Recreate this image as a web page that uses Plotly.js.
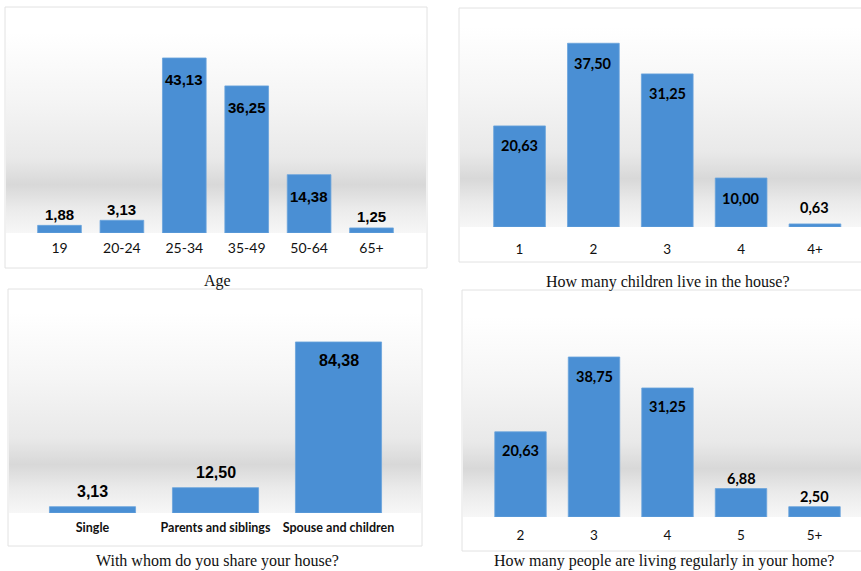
<!DOCTYPE html>
<html>
<head>
<meta charset="utf-8">
<script src="https://cdn.plot.ly/plotly-3.0.1.min.js"></script>
<style>html,body{margin:0;padding:0;background:#fff}#chart{width:861px;height:571px}</style>
</head>
<body>
<div id="chart"></div>
<script>
// ---- data ----
const ageCats = ['19', '20-24', '25-34', '35-49', '50-64', '65+'];
const ageVals = [1.88, 3.13, 43.13, 36.25, 14.38, 1.25];
const ageCaption = 'Age';

const childCats = ['1', '2', '3', '4', '4+'];
const childVals = [20.63, 37.50, 31.25, 10.00, 0.63];
const childCaption = 'How many children live in the house?';

const shareCats = ['Single', 'Parents and siblings', 'Spouse and children'];
const shareVals = [3.13, 12.50, 84.38];
const shareCaption = 'With whom do you share your house?';

const peopleCats = ['2', '3', '4', '5', '5+'];
const peopleVals = [20.63, 38.75, 31.25, 6.88, 2.50];
const peopleCaption = 'How many people are living regularly in your home?';

// ---- layout helpers (pixel -> paper) ----
const W = 861, H = 571;
const fx = p => p / W;
const fy = p => 1 - p / H;
const fmt = v => v.toFixed(2).replace('.', ',');

const BAR = '#4a8fd4';
const ARIAL = "'Liberation Sans', Arial, sans-serif";
const panels = [
  {cats: ageCats, vals: ageVals, cap: ageCaption, x: [28.3, 402.7], y: [30.1, 233], range: [0, 50],
   thr: 10, inShift: -22, outShift: 11, lblFont: {family: ARIAL, size: 15, color: '#000'},
   tickFont: {family: 'Lato', size: 14, color: '#111'}, standoff: 5,
   box: [5, 427, 7, 268], capXY: [218, 281]},
  {cats: childCats, vals: childVals, cap: childCaption, x: [482.6, 851.9], y: [31, 227], range: [0, 40],
   thr: 5, inShift: -20, outShift: 16, lblFont: {family: 'Lato', size: 14.5, color: '#000'},
   tickFont: {family: 'Lato', size: 13.5, color: '#111'}, standoff: 12,
   box: [459, 870, 8, 262], capXY: [668, 282]},
  {cats: shareCats, vals: shareVals, cap: shareCaption, x: [31, 400], y: [310.3, 513], range: [0, 100],
   thr: 20, inShift: -19, outShift: 15, lblFont: {family: ARIAL, size: 16, color: '#000'},
   tickFont: {family: 'Lato', size: 12.5, color: '#111', weight: 'bold'}, standoff: 5,
   box: [8, 422, 289, 546], capXY: [218, 561]},
  {cats: peopleCats, vals: peopleVals, cap: peopleCaption, x: [483.75, 851.25], y: [331.2, 517], range: [0, 45],
   thr: 10, inShift: -19, outShift: 10, lblFont: {family: 'Lato', size: 14.5, color: '#000'},
   tickFont: {family: 'Lato', size: 13.5, color: '#111'}, standoff: 8,
   box: [462, 870, 290, 551], capXY: [664, 561]}
];

function gradSvg() {
  const svg = '<svg xmlns="http://www.w3.org/2000/svg" width="100" height="220" preserveAspectRatio="none">' +
    '<defs><linearGradient id="g" x1="0" y1="0" x2="0" y2="1">' +
    '<stop offset="0" stop-color="#ffffff"/>' +
    '<stop offset="0.09" stop-color="#ffffff"/>' +
    '<stop offset="0.39" stop-color="#f5f5f5"/>' +
    '<stop offset="0.66" stop-color="#e9e9e9"/>' +
    '<stop offset="0.78" stop-color="#d8d8d8"/>' +
    '<stop offset="0.89" stop-color="#ebebeb"/>' +
    '<stop offset="1" stop-color="#f7f7f7"/>' +
    '</linearGradient></defs><rect width="100" height="220" fill="url(#g)"/></svg>';
  return 'data:image/svg+xml;base64,' + btoa(svg);
}

const data = [];
const layout = {
  width: W, height: H,
  margin: {l: 0, r: 0, t: 0, b: 0},
  paper_bgcolor: '#ffffff',
  plot_bgcolor: 'rgba(0,0,0,0)',
  showlegend: false,
  bargap: 0.3,
  annotations: [], shapes: [], images: []
};

panels.forEach((p, i) => {
  const n = i === 0 ? '' : String(i + 1);
  const xa = 'x' + n, ya = 'y' + n;
  data.push({
    type: 'bar', x: p.cats, y: p.vals, xaxis: xa, yaxis: ya,
    marker: {color: BAR, line: {color: '#6aa3dc', width: 0.8}},
    hoverinfo: 'skip'
  });
  layout['xaxis' + n] = {
    domain: [fx(p.x[0]), fx(p.x[1])], anchor: ya, type: 'category',
    range: [-0.5, p.cats.length - 0.5], tickangle: 0,
    showgrid: false, showline: false, zeroline: false, ticks: '',
    tickfont: p.tickFont, ticklabelstandoff: p.standoff, fixedrange: true
  };
  layout['yaxis' + n] = {
    domain: [fy(p.y[1]), fy(p.y[0])], anchor: xa, range: p.range,
    visible: false, showgrid: false, zeroline: false, fixedrange: true
  };
  p.vals.forEach((v, k) => {
    const inside = v >= p.thr;
    layout.annotations.push({
      xref: xa, yref: ya, x: k, y: v, text: '<b>' + fmt(v) + '</b>',
      showarrow: false, yanchor: 'middle', yshift: inside ? p.inShift : p.outShift,
      font: p.lblFont
    });
  });
  layout.annotations.push({
    xref: 'paper', yref: 'paper', x: fx(p.capXY[0]), y: fy(p.capXY[1]),
    xanchor: 'center', yanchor: 'middle', showarrow: false, text: p.cap,
    font: {family: "'Liberation Serif', 'Times New Roman', serif", size: 16, color: '#111'}
  });
  layout.shapes.push({
    type: 'rect', xref: 'paper', yref: 'paper', layer: 'below',
    x0: fx(p.box[0]), x1: fx(p.box[1]), y0: fy(p.box[3]), y1: fy(p.box[2]),
    line: {color: '#e2e2e2', width: 1}, fillcolor: 'rgba(0,0,0,0)'
  });
  layout.images.push({
    source: gradSvg(), xref: 'paper', yref: 'paper', layer: 'below',
    x: fx(p.box[0] + 1), y: fy(p.y[1] - 220),
    sizex: fx(p.box[1] - p.box[0] - 2), sizey: 220 / H,
    xanchor: 'left', yanchor: 'top', sizing: 'stretch'
  });
});

Plotly.newPlot('chart', data, layout, {displayModeBar: false, staticPlot: true});
</script>
</body>
</html>
